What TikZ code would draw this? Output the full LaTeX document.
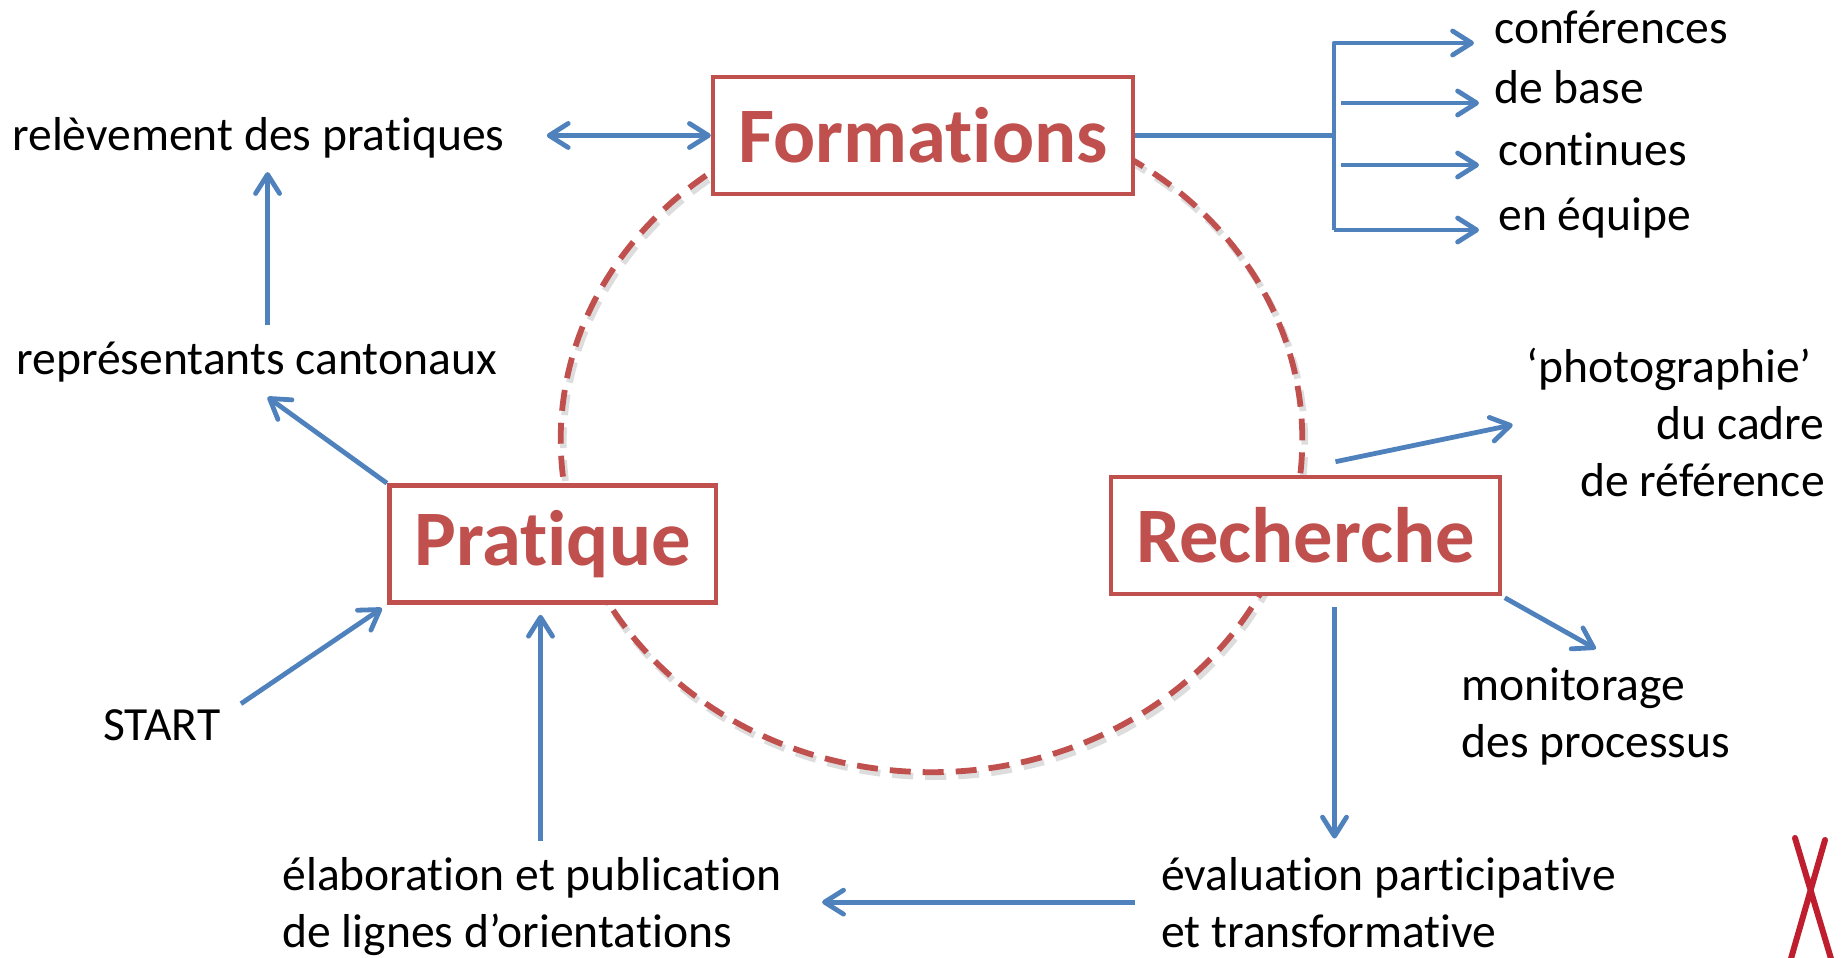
\documentclass[tikz,border=0pt]{standalone}
\usepackage{fontspec}
\setmainfont[Ligatures={NoCommon}]{Carlito}
\usepackage{xcolor}
\usetikzlibrary{calc,arrows.meta}
\definecolor{hubred}{RGB}{192,80,77}
\definecolor{flowblue}{RGB}{79,129,189}
\definecolor{xred}{RGB}{190,30,45}
\tikzstyle{hub} = [draw=hubred, line width=2.3pt, fill=white, text=hubred,
	font=\fontsize{39.3}{47}\selectfont\bfseries, inner xsep=12.5pt, minimum height=58.5pt]
\tikzstyle{txt} = [font=\fontsize{23.8}{28.5}\selectfont, inner sep=0pt]
\tikzstyle{flow} = [draw=flowblue, line width=2.4pt, line join=round, ->]
\tikzstyle{cyclering} = [draw=hubred, line width=2.9pt, dash pattern=on 10.5pt off 6pt]

\begin{document}
\begin{tikzpicture}[x=0.5pt,y=-0.5pt,>={Straight Barb[length=9.5pt,width=12pt,round]}]
   \useasboundingbox (0,0) rectangle (1843,958);
   % dashed cycle, drawn first so the boxes cover it
   \draw[gray!45, line width=3.4pt, dash pattern=on 10.5pt off 6pt, opacity=0.6] (934,444) ellipse [x radius=185.4pt, y radius=166.3pt];
   \draw[cyclering] (931.5,439.6) ellipse [x radius=185.4pt, y radius=166.3pt];

   \node[hub] (form) at (923,135.5) {Formations};
   \node[hub] (prat) at (552.5,544) {Pratique};
   \node[hub] (rech) at (1305.5,535.5) {Recherche};

   \node[txt, anchor=base west] (releve) at (12,150) {relèvement des pratiques};
   \node[txt, anchor=base west] (repres) at (16,374) {représentants cantonaux};
   \node[txt, anchor=base west] (start) at (103,740) {START};
   \node[txt, anchor=base west, align=left] (elab) at (282,947) {élaboration et publication\\de lignes d’orientations};
   \node[txt, anchor=base west, align=left] (eval) at (1161,947) {évaluation participative\\et transformative};
   \node[txt, anchor=base west, align=left] (monit) at (1461,757) {monitorage\\des processus};
   \node[txt, anchor=base east, align=right] (photo) at (1825,496) {‘photographie’\hspace*{0.27em}\\du cadre\\de référence};
   \node[txt, anchor=base west] (conf) at (1494,43) {conférences};
   \node[txt, anchor=base west] (base) at (1494,103) {de base};
   \node[txt, anchor=base west] (cont) at (1498,165) {continues};
   \node[txt, anchor=base west] (equipe) at (1498,230) {en équipe};

   % left side
   \draw[flow, <->, shorten <=21pt] (form.west -| releve.east) -- (form.west);
   \draw[flow] (prat.north west) -- ([xshift=5.5pt,yshift=-7.5pt]repres.south);
   \draw[flow, shorten <=8pt, shorten >=7pt] ($(repres.north)+(5.5pt,0)$) -- ($(repres.north |- releve.south)+(5.5pt,0)$);
   \draw[flow, shorten >=3pt] ([shift={(10pt,2.5pt)}]start.north east) -- (prat.south west);
   \draw[flow, shorten <=8pt, shorten >=5pt] ($(elab.north -| prat.south)+(-6pt,0)$) -- ([xshift=-6pt]prat.south);

   % right side
   \draw[flow, shorten <=5.5pt, shorten >=9pt] ([xshift=14.5pt]rech.south) -- ($(eval.north -| rech.south)+(14.5pt,0)$);
   \draw[flow, shorten <=13pt, shorten >=20pt] (eval.west) -- (eval.west -| elab.east);
   \draw[flow, shorten >=7pt] ([xshift=15pt,yshift=6.5pt]rech.north) -- (photo.west);
   \draw[flow, shorten <=1.5pt] (rech.south east) -- ([yshift=9pt]monit.north);

   % fork to the kinds of formations
   \coordinate (fork) at (1334,140);
   \draw[flow, -] (form.east) -- (form.east -| fork);
   \draw[flow] (fork |- equipe.base) -- (fork |- conf.base) -- ([xshift=-10pt]conf.base west);
   \draw[flow] (fork |- equipe.base) -- ([xshift=-9.5pt]equipe.base west);
   \draw[flow] ($(fork |- base.base)+(3.5pt,0)$) -- ([xshift=-7.5pt]base.base west);
   \draw[flow] ($(fork |- cont.base)+(3.5pt,0)$) -- ([xshift=-9.5pt]cont.base west);

   \draw[xred, line width=3pt, line cap=round] (1795,838) -- (1832,962) (1825,840) -- (1790,962);
\end{tikzpicture}
\end{document}
